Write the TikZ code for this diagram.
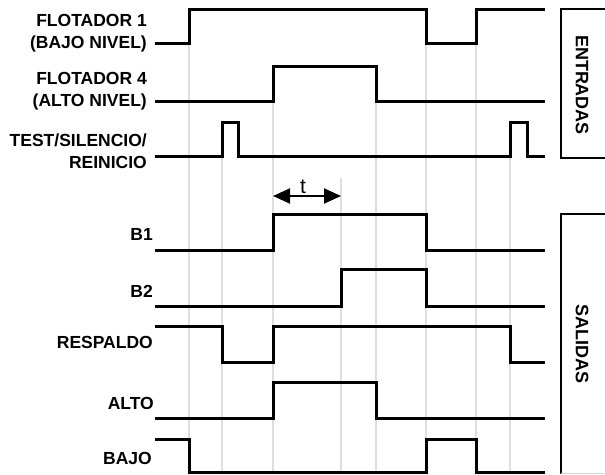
\documentclass[tikz,border=0pt]{standalone}
\usepackage{fontspec}
\setmainfont{Liberation Sans}
\usetikzlibrary{arrows.meta}

\begin{document}
\begin{tikzpicture}[
  x=1pt, y=-1pt,
  signal/.style={line width=3pt, line join=miter},
  gridline/.style={gray!25, line width=1.2pt},
  frame/.style={line width=1.4pt},
  sig label/.style={anchor=east, inner sep=0pt, align=right, font=\fontsize{17.5}{22.5}\selectfont\bfseries},
  group label/.style={rotate=-90, inner sep=0pt, font=\fontsize{18}{20}\selectfont\bfseries},
  arrow/.style={>={Triangle[length=17pt,width=15pt]}, <->, line width=2pt}
]
\useasboundingbox (0,0) rectangle (605,474);

% grid lines at the switching times
\foreach \t/\top in {189/9, 222/122, 273/66, 341/178, 376/66, 426/9, 476/9, 510/122}
  \draw[gridline] (\t,\top) -- (\t,474);

% entradas
\node[sig label] (flot1) at (147,33) {FLOTADOR 1\\(BAJO NIVEL)};
\node[sig label] (flot4) at (147,91) {FLOTADOR 4\\(ALTO NIVEL)};
\node[sig label] (test) at (147,151) {TEST/SILENCIO/\\REINICIO};

\draw[signal] (155,43) -- (189,43) -- (189,9) -- (426,9) -- (426,43) -- (476,43) -- (476,9) -- (545,9);
\draw[signal] (155,101) -- (273,101) -- (273,66) -- (376,66) -- (376,101) -- (545,101);
\draw[signal] (155,156) -- (222,156) -- (222,122) -- (238,122) -- (238,156) -- (510,156)
  -- (510,122) -- (527,122) -- (527,156) -- (545,156);

% salidas
\node[sig label] (b1) at (153,234) {B1};
\node[sig label] (b2) at (153,291.5) {B2};
\node[sig label] (resp) at (153,342.5) {RESPALDO};
\node[sig label] (alto) at (154,403) {ALTO};
\node[sig label] (bajo) at (152,458.5) {BAJO};

\draw[signal] (155,250) -- (273,250) -- (273,214) -- (426,214) -- (426,250) -- (545,250);
\draw[signal] (155,306) -- (341,306) -- (341,269) -- (426,269) -- (426,306) -- (545,306);
\draw[signal] (155,326) -- (222,326) -- (222,362) -- (273,362) -- (273,326) -- (510,326)
  -- (510,362) -- (545,362);
\draw[signal] (155,418) -- (273,418) -- (273,382) -- (376,382) -- (376,418) -- (545,418);
\draw[signal] (155,439) -- (189,439) -- (189,472) -- (426,472) -- (426,439) -- (476,439)
  -- (476,472) -- (545,472);

% delay t
\coordinate (tstart) at (273,196);
\coordinate (tend) at (341,196);
\draw[arrow] (tstart) -- node[above=-2pt, font=\fontsize{21}{22}\selectfont, xshift=-4pt] (tlabel) {t} (tend);

% group frames
\draw[frame] (605,9) -- (561,9) -- (561,158) -- (605,158);
\draw[frame] (605,214) -- (561,214) -- (561,474);
\draw[gray!30, line width=1pt] (561,473) -- (605,473);
\node[group label] (entradas) at (582,85) {ENTRADAS};
\node[group label] (salidas) at (582,344) {SALIDAS};

\end{tikzpicture}
\end{document}
